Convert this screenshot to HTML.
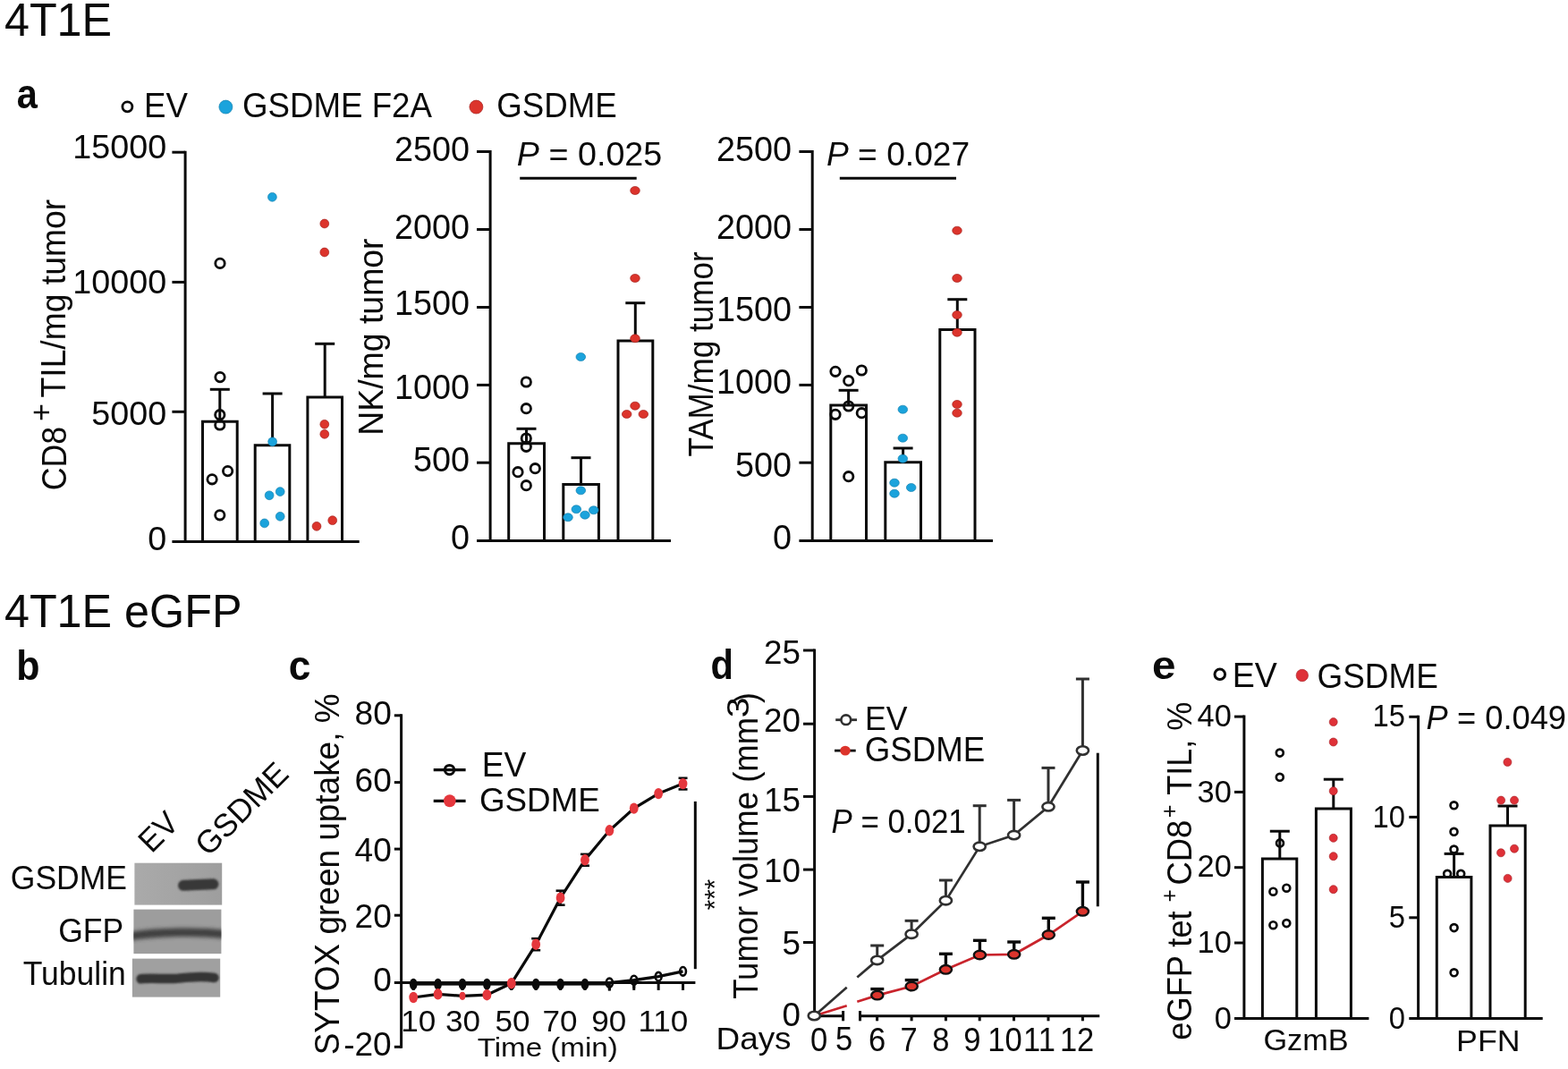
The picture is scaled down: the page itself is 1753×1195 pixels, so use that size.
<!DOCTYPE html>
<html lang="en">
<head>
<meta charset="utf-8">
<title>4T1E figure</title>
<style>
html,body{margin:0;padding:0;background:#fff;}
body{width:1753px;height:1195px;overflow:hidden;}
svg{display:block;font-family:'Liberation Sans', sans-serif;}
text{white-space:pre;}
</style>
</head>
<body>
<svg width="1753" height="1195" viewBox="0 0 1753 1195">
<rect x="0" y="0" width="1753" height="1195" fill="#fff"/>
<text transform="translate(4.93 701.18) scale(0.9688 1)" font-size="51.93" fill="#0a0a0a">4T1E eGFP</text>
<text transform="translate(4.93 40.18) scale(0.9688 1)" font-size="51.93" fill="#0a0a0a">4T1E</text>
<text transform="translate(18.75 120.54) scale(0.8959 1)" font-size="46.46" font-weight="bold" fill="#0a0a0a">a</text>
<text transform="translate(18.24 759.54) scale(0.9422 1)" font-size="45.55" font-weight="bold" fill="#0a0a0a">b</text>
<text transform="translate(322.73 759.53) scale(0.9471 1)" font-size="46.65" font-weight="bold" fill="#0a0a0a">c</text>
<text transform="translate(794.43 759.24) scale(0.9144 1)" font-size="45.55" font-weight="bold" fill="#0a0a0a">d</text>
<text transform="translate(1288.1 759.25) scale(1.0532 1)" font-size="45.18" font-weight="bold" fill="#0a0a0a">e</text>
<circle cx="142.4" cy="119.3" r="5.5" fill="none" stroke="#0a0a0a" stroke-width="2.8"/>
<text transform="translate(270.97 130.92) scale(0.9532 1)" font-size="38.49" fill="#0a0a0a">GSDME F2A</text>
<text transform="translate(160.92 130.92) scale(0.9532 1)" font-size="38.49" fill="#0a0a0a">EV</text>
<text transform="translate(555.17 130.92) scale(0.9532 1)" font-size="38.49" fill="#0a0a0a">GSDME</text>
<circle cx="252.4" cy="119.6" r="7.5" fill="#1ba3dc" stroke="#1580ad" stroke-width="0.9" stroke-opacity="0.75"/>
<circle cx="532.4" cy="119.6" r="7.5" fill="#dc342c" stroke="#a32320" stroke-width="0.9" stroke-opacity="0.75"/>
<path d="M226.5 605.4V471.2H265.2V605.4" fill="#fff" stroke="#0a0a0a" stroke-width="3" stroke-linejoin="miter"/>
<path d="M285.2 605.4V497.7H323.8V605.4" fill="#fff" stroke="#0a0a0a" stroke-width="3" stroke-linejoin="miter"/>
<path d="M343.9 605.4V444H382.5V605.4" fill="#fff" stroke="#0a0a0a" stroke-width="3" stroke-linejoin="miter"/>
<line x1="245.8" y1="435.3" x2="245.8" y2="471" stroke="#0a0a0a" stroke-width="3" stroke-linecap="butt"/>
<line x1="234.8" y1="435.3" x2="256.8" y2="435.3" stroke="#0a0a0a" stroke-width="3" stroke-linecap="butt"/>
<line x1="304.6" y1="440" x2="304.6" y2="497.5" stroke="#0a0a0a" stroke-width="3" stroke-linecap="butt"/>
<line x1="293.6" y1="440" x2="315.6" y2="440" stroke="#0a0a0a" stroke-width="3" stroke-linecap="butt"/>
<line x1="363.2" y1="384.3" x2="363.2" y2="444" stroke="#0a0a0a" stroke-width="3" stroke-linecap="butt"/>
<line x1="352.2" y1="384.3" x2="374.2" y2="384.3" stroke="#0a0a0a" stroke-width="3" stroke-linecap="butt"/>
<line x1="207.1" y1="168.7" x2="207.1" y2="606.9" stroke="#0a0a0a" stroke-width="3" stroke-linecap="butt"/>
<line x1="192.4" y1="170.2" x2="207.1" y2="170.2" stroke="#0a0a0a" stroke-width="3" stroke-linecap="butt"/>
<line x1="192.4" y1="315.4" x2="207.1" y2="315.4" stroke="#0a0a0a" stroke-width="3" stroke-linecap="butt"/>
<line x1="192.4" y1="460.3" x2="207.1" y2="460.3" stroke="#0a0a0a" stroke-width="3" stroke-linecap="butt"/>
<line x1="192.4" y1="605.4" x2="401.7" y2="605.4" stroke="#0a0a0a" stroke-width="3" stroke-linecap="butt"/>
<text transform="translate(81.31 177.28) scale(1.0063 1)" font-size="37.5" fill="#0a0a0a">15000</text>
<text transform="translate(81.31 328.27) scale(1.0063 1)" font-size="37.5" fill="#0a0a0a">10000</text>
<text transform="translate(102.19 474.68) scale(1.0063 1)" font-size="37.5" fill="#0a0a0a">5000</text>
<text transform="translate(165.2 615.08) scale(1.0063 1)" font-size="37.5" fill="#0a0a0a">0</text>
<circle cx="246" cy="294.4" r="5.2" fill="none" stroke="#0a0a0a" stroke-width="2.8"/>
<circle cx="246" cy="421.6" r="5.2" fill="none" stroke="#0a0a0a" stroke-width="2.8"/>
<circle cx="245.8" cy="463.7" r="5.2" fill="none" stroke="#0a0a0a" stroke-width="2.8"/>
<circle cx="245.8" cy="475" r="5.2" fill="none" stroke="#0a0a0a" stroke-width="2.8"/>
<circle cx="254.6" cy="526.6" r="5.2" fill="none" stroke="#0a0a0a" stroke-width="2.8"/>
<circle cx="237.1" cy="535.8" r="5.2" fill="none" stroke="#0a0a0a" stroke-width="2.8"/>
<circle cx="245.8" cy="575.8" r="5.2" fill="none" stroke="#0a0a0a" stroke-width="2.8"/>
<circle cx="304.4" cy="220.3" r="4.9" fill="#1ba3dc" stroke="#1580ad" stroke-width="0.9" stroke-opacity="0.75"/>
<circle cx="304.6" cy="493.8" r="4.9" fill="#1ba3dc" stroke="#1580ad" stroke-width="0.9" stroke-opacity="0.75"/>
<circle cx="313.2" cy="549.6" r="4.9" fill="#1ba3dc" stroke="#1580ad" stroke-width="0.9" stroke-opacity="0.75"/>
<circle cx="301.1" cy="553.8" r="4.9" fill="#1ba3dc" stroke="#1580ad" stroke-width="0.9" stroke-opacity="0.75"/>
<circle cx="313.2" cy="577.3" r="4.9" fill="#1ba3dc" stroke="#1580ad" stroke-width="0.9" stroke-opacity="0.75"/>
<circle cx="295.7" cy="584.9" r="4.9" fill="#1ba3dc" stroke="#1580ad" stroke-width="0.9" stroke-opacity="0.75"/>
<circle cx="362.8" cy="250" r="4.9" fill="#dc342c" stroke="#a32320" stroke-width="0.9" stroke-opacity="0.75"/>
<circle cx="362.8" cy="282" r="4.9" fill="#dc342c" stroke="#a32320" stroke-width="0.9" stroke-opacity="0.75"/>
<circle cx="362.8" cy="474.3" r="4.9" fill="#dc342c" stroke="#a32320" stroke-width="0.9" stroke-opacity="0.75"/>
<circle cx="362.8" cy="485.3" r="4.9" fill="#dc342c" stroke="#a32320" stroke-width="0.9" stroke-opacity="0.75"/>
<circle cx="371.7" cy="581.7" r="4.9" fill="#dc342c" stroke="#a32320" stroke-width="0.9" stroke-opacity="0.75"/>
<circle cx="354" cy="588.3" r="4.9" fill="#dc342c" stroke="#a32320" stroke-width="0.9" stroke-opacity="0.75"/>
<text transform="translate(73.61 548.29) rotate(-90) scale(0.9192 1)" font-size="38.92" fill="#0a0a0a">CD8</text>
<text transform="translate(57.56 471.01) rotate(-90) scale(0.9661 1)" font-size="35.31" fill="#0a0a0a">+</text>
<text transform="translate(73.4 444.47) rotate(-90) scale(0.9575 1)" font-size="38.92" fill="#0a0a0a">TIL/mg tumor</text>
<path d="M568.7 604.4V495.8H608.5V604.4" fill="#fff" stroke="#0a0a0a" stroke-width="3" stroke-linejoin="miter"/>
<path d="M629.8 604.4V541.4H669.4V604.4" fill="#fff" stroke="#0a0a0a" stroke-width="3" stroke-linejoin="miter"/>
<path d="M691 604.4V381H729.8V604.4" fill="#fff" stroke="#0a0a0a" stroke-width="3" stroke-linejoin="miter"/>
<line x1="588.5" y1="479.3" x2="588.5" y2="495.5" stroke="#0a0a0a" stroke-width="3" stroke-linecap="butt"/>
<line x1="577.5" y1="479.3" x2="599.5" y2="479.3" stroke="#0a0a0a" stroke-width="3" stroke-linecap="butt"/>
<line x1="649.5" y1="511.7" x2="649.5" y2="541" stroke="#0a0a0a" stroke-width="3" stroke-linecap="butt"/>
<line x1="638.5" y1="511.7" x2="660.5" y2="511.7" stroke="#0a0a0a" stroke-width="3" stroke-linecap="butt"/>
<line x1="710.3" y1="338.7" x2="710.3" y2="381" stroke="#0a0a0a" stroke-width="3" stroke-linecap="butt"/>
<line x1="699.3" y1="338.7" x2="721.3" y2="338.7" stroke="#0a0a0a" stroke-width="3" stroke-linecap="butt"/>
<line x1="548.1" y1="168" x2="548.1" y2="605.9" stroke="#0a0a0a" stroke-width="3" stroke-linecap="butt"/>
<line x1="533" y1="169.5" x2="548.1" y2="169.5" stroke="#0a0a0a" stroke-width="3" stroke-linecap="butt"/>
<line x1="533" y1="256.5" x2="548.1" y2="256.5" stroke="#0a0a0a" stroke-width="3" stroke-linecap="butt"/>
<line x1="533" y1="343.5" x2="548.1" y2="343.5" stroke="#0a0a0a" stroke-width="3" stroke-linecap="butt"/>
<line x1="533" y1="430.4" x2="548.1" y2="430.4" stroke="#0a0a0a" stroke-width="3" stroke-linecap="butt"/>
<line x1="533" y1="517.2" x2="548.1" y2="517.2" stroke="#0a0a0a" stroke-width="3" stroke-linecap="butt"/>
<line x1="533" y1="604.4" x2="750" y2="604.4" stroke="#0a0a0a" stroke-width="3" stroke-linecap="butt"/>
<text transform="translate(440.91 179.52) scale(0.9885 1)" font-size="38.21" fill="#0a0a0a">2500</text>
<text transform="translate(440.91 266.72) scale(0.9885 1)" font-size="38.21" fill="#0a0a0a">2000</text>
<text transform="translate(440.91 352.22) scale(0.9885 1)" font-size="38.21" fill="#0a0a0a">1500</text>
<text transform="translate(440.91 446.02) scale(0.9885 1)" font-size="38.21" fill="#0a0a0a">1000</text>
<text transform="translate(461.94 526.72) scale(0.9885 1)" font-size="38.21" fill="#0a0a0a">500</text>
<text transform="translate(503.99 614.32) scale(0.9885 1)" font-size="38.21" fill="#0a0a0a">0</text>
<circle cx="588.3" cy="427" r="5.2" fill="none" stroke="#0a0a0a" stroke-width="2.8"/>
<circle cx="588.3" cy="456.7" r="5.2" fill="none" stroke="#0a0a0a" stroke-width="2.8"/>
<circle cx="588.3" cy="490" r="5.2" fill="none" stroke="#0a0a0a" stroke-width="2.8"/>
<circle cx="588.3" cy="499.3" r="5.2" fill="none" stroke="#0a0a0a" stroke-width="2.8"/>
<circle cx="598.3" cy="523.7" r="5.2" fill="none" stroke="#0a0a0a" stroke-width="2.8"/>
<circle cx="579" cy="527.7" r="5.2" fill="none" stroke="#0a0a0a" stroke-width="2.8"/>
<circle cx="588.3" cy="542.7" r="5.2" fill="none" stroke="#0a0a0a" stroke-width="2.8"/>
<ellipse cx="649.3" cy="399" rx="5.3" ry="4.5" fill="#1ba3dc" stroke="#1580ad" stroke-width="0.9" stroke-opacity="0.75"/>
<ellipse cx="649.3" cy="548.3" rx="5.3" ry="4.5" fill="#1ba3dc" stroke="#1580ad" stroke-width="0.9" stroke-opacity="0.75"/>
<ellipse cx="644.3" cy="569.3" rx="5.3" ry="4.5" fill="#1ba3dc" stroke="#1580ad" stroke-width="0.9" stroke-opacity="0.75"/>
<ellipse cx="663.7" cy="570.3" rx="5.3" ry="4.5" fill="#1ba3dc" stroke="#1580ad" stroke-width="0.9" stroke-opacity="0.75"/>
<ellipse cx="654" cy="575.7" rx="5.3" ry="4.5" fill="#1ba3dc" stroke="#1580ad" stroke-width="0.9" stroke-opacity="0.75"/>
<ellipse cx="635" cy="578.3" rx="5.3" ry="4.5" fill="#1ba3dc" stroke="#1580ad" stroke-width="0.9" stroke-opacity="0.75"/>
<ellipse cx="710" cy="213" rx="5.3" ry="4.5" fill="#dc342c" stroke="#a32320" stroke-width="0.9" stroke-opacity="0.75"/>
<ellipse cx="710" cy="311" rx="5.3" ry="4.5" fill="#dc342c" stroke="#a32320" stroke-width="0.9" stroke-opacity="0.75"/>
<ellipse cx="710" cy="378.3" rx="5.3" ry="4.5" fill="#dc342c" stroke="#a32320" stroke-width="0.9" stroke-opacity="0.75"/>
<ellipse cx="710" cy="453.7" rx="5.3" ry="4.5" fill="#dc342c" stroke="#a32320" stroke-width="0.9" stroke-opacity="0.75"/>
<ellipse cx="700.7" cy="463" rx="5.3" ry="4.5" fill="#dc342c" stroke="#a32320" stroke-width="0.9" stroke-opacity="0.75"/>
<ellipse cx="719.3" cy="463" rx="5.3" ry="4.5" fill="#dc342c" stroke="#a32320" stroke-width="0.9" stroke-opacity="0.75"/>
<text transform="translate(427.9 486.72) rotate(-90) scale(0.9613 1)" font-size="38.92" fill="#0a0a0a">NK/mg tumor</text>
<text transform="translate(577.87 185.23) scale(1.0324 1)" font-size="36.51" fill="#0a0a0a"><tspan font-style="italic">P</tspan> = 0.025</text>
<line x1="581.2" y1="199.2" x2="711.7" y2="199.2" stroke="#0a0a0a" stroke-width="3" stroke-linecap="butt"/>
<path d="M928.8 604.4V453H968.5V604.4" fill="#fff" stroke="#0a0a0a" stroke-width="3" stroke-linejoin="miter"/>
<path d="M989.8 604.4V516.8H1029.5V604.4" fill="#fff" stroke="#0a0a0a" stroke-width="3" stroke-linejoin="miter"/>
<path d="M1050.8 604.4V368.5H1090V604.4" fill="#fff" stroke="#0a0a0a" stroke-width="3" stroke-linejoin="miter"/>
<line x1="948.6" y1="436.3" x2="948.6" y2="453" stroke="#0a0a0a" stroke-width="3" stroke-linecap="butt"/>
<line x1="937.6" y1="436.3" x2="959.6" y2="436.3" stroke="#0a0a0a" stroke-width="3" stroke-linecap="butt"/>
<line x1="1009.6" y1="501" x2="1009.6" y2="516.5" stroke="#0a0a0a" stroke-width="3" stroke-linecap="butt"/>
<line x1="998.6" y1="501" x2="1020.6" y2="501" stroke="#0a0a0a" stroke-width="3" stroke-linecap="butt"/>
<line x1="1070.3" y1="334.7" x2="1070.3" y2="368.5" stroke="#0a0a0a" stroke-width="3" stroke-linecap="butt"/>
<line x1="1059.3" y1="334.7" x2="1081.3" y2="334.7" stroke="#0a0a0a" stroke-width="3" stroke-linecap="butt"/>
<line x1="908.2" y1="168" x2="908.2" y2="605.9" stroke="#0a0a0a" stroke-width="3" stroke-linecap="butt"/>
<line x1="893.4" y1="169.5" x2="908.2" y2="169.5" stroke="#0a0a0a" stroke-width="3" stroke-linecap="butt"/>
<line x1="893.4" y1="256.5" x2="908.2" y2="256.5" stroke="#0a0a0a" stroke-width="3" stroke-linecap="butt"/>
<line x1="893.4" y1="343.5" x2="908.2" y2="343.5" stroke="#0a0a0a" stroke-width="3" stroke-linecap="butt"/>
<line x1="893.4" y1="430.4" x2="908.2" y2="430.4" stroke="#0a0a0a" stroke-width="3" stroke-linecap="butt"/>
<line x1="893.4" y1="517.2" x2="908.2" y2="517.2" stroke="#0a0a0a" stroke-width="3" stroke-linecap="butt"/>
<line x1="893.4" y1="604.4" x2="1110" y2="604.4" stroke="#0a0a0a" stroke-width="3" stroke-linecap="butt"/>
<text transform="translate(801.01 179.82) scale(0.9885 1)" font-size="38.21" fill="#0a0a0a">2500</text>
<text transform="translate(801.01 266.72) scale(0.9885 1)" font-size="38.21" fill="#0a0a0a">2000</text>
<text transform="translate(801.01 359.12) scale(0.9885 1)" font-size="38.21" fill="#0a0a0a">1500</text>
<text transform="translate(801.01 439.92) scale(0.9885 1)" font-size="38.21" fill="#0a0a0a">1000</text>
<text transform="translate(822.04 532.82) scale(0.9885 1)" font-size="38.21" fill="#0a0a0a">500</text>
<text transform="translate(864.09 614.32) scale(0.9885 1)" font-size="38.21" fill="#0a0a0a">0</text>
<circle cx="934" cy="415.3" r="5.2" fill="none" stroke="#0a0a0a" stroke-width="2.8"/>
<circle cx="963.3" cy="414" r="5.2" fill="none" stroke="#0a0a0a" stroke-width="2.8"/>
<circle cx="948.7" cy="425.7" r="5.2" fill="none" stroke="#0a0a0a" stroke-width="2.8"/>
<circle cx="948.7" cy="454" r="5.2" fill="none" stroke="#0a0a0a" stroke-width="2.8"/>
<circle cx="934" cy="463.3" r="5.2" fill="none" stroke="#0a0a0a" stroke-width="2.8"/>
<circle cx="963.3" cy="461.7" r="5.2" fill="none" stroke="#0a0a0a" stroke-width="2.8"/>
<circle cx="948.7" cy="532.7" r="5.2" fill="none" stroke="#0a0a0a" stroke-width="2.8"/>
<ellipse cx="1009.3" cy="457.7" rx="5.3" ry="4.5" fill="#1ba3dc" stroke="#1580ad" stroke-width="0.9" stroke-opacity="0.75"/>
<ellipse cx="1009.3" cy="489.7" rx="5.3" ry="4.5" fill="#1ba3dc" stroke="#1580ad" stroke-width="0.9" stroke-opacity="0.75"/>
<ellipse cx="1009.3" cy="512.7" rx="5.3" ry="4.5" fill="#1ba3dc" stroke="#1580ad" stroke-width="0.9" stroke-opacity="0.75"/>
<ellipse cx="1000" cy="539.7" rx="5.3" ry="4.5" fill="#1ba3dc" stroke="#1580ad" stroke-width="0.9" stroke-opacity="0.75"/>
<ellipse cx="1018.7" cy="545" rx="5.3" ry="4.5" fill="#1ba3dc" stroke="#1580ad" stroke-width="0.9" stroke-opacity="0.75"/>
<ellipse cx="1000" cy="551.7" rx="5.3" ry="4.5" fill="#1ba3dc" stroke="#1580ad" stroke-width="0.9" stroke-opacity="0.75"/>
<ellipse cx="1070" cy="257.7" rx="5.3" ry="4.5" fill="#dc342c" stroke="#a32320" stroke-width="0.9" stroke-opacity="0.75"/>
<ellipse cx="1070" cy="311" rx="5.3" ry="4.5" fill="#dc342c" stroke="#a32320" stroke-width="0.9" stroke-opacity="0.75"/>
<ellipse cx="1070" cy="352" rx="5.3" ry="4.5" fill="#dc342c" stroke="#a32320" stroke-width="0.9" stroke-opacity="0.75"/>
<ellipse cx="1070" cy="371.7" rx="5.3" ry="4.5" fill="#dc342c" stroke="#a32320" stroke-width="0.9" stroke-opacity="0.75"/>
<ellipse cx="1070" cy="452" rx="5.3" ry="4.5" fill="#dc342c" stroke="#a32320" stroke-width="0.9" stroke-opacity="0.75"/>
<ellipse cx="1070" cy="461.7" rx="5.3" ry="4.5" fill="#dc342c" stroke="#a32320" stroke-width="0.9" stroke-opacity="0.75"/>
<text transform="translate(797.2 510.62) rotate(-90) scale(0.9018 1)" font-size="38.92" fill="#0a0a0a">TAM/mg tumor</text>
<text transform="translate(923.98 185.23) scale(1.0185 1)" font-size="36.51" fill="#0a0a0a"><tspan font-style="italic">P</tspan> = 0.027</text>
<line x1="938.8" y1="199.2" x2="1069" y2="199.2" stroke="#0a0a0a" stroke-width="3" stroke-linecap="butt"/>
<defs><filter id="bl" filterUnits="userSpaceOnUse" x="130" y="950" width="140" height="180"><feGaussianBlur stdDeviation="1.3"/></filter><filter id="bl2" filterUnits="userSpaceOnUse" x="130" y="950" width="140" height="180"><feGaussianBlur stdDeviation="2"/></filter><linearGradient id="g1" x1="0" x2="1" y1="0" y2="0"><stop offset="0" stop-color="#aaaaaa"/><stop offset="1" stop-color="#9e9e9e"/></linearGradient><clipPath id="c2"><rect x="149.4" y="1016.6" width="98" height="49.5"/></clipPath><clipPath id="c3"><rect x="147.9" y="1071.6" width="98.3" height="43"/></clipPath></defs>
<rect x="150.4" y="964.7" width="97.8" height="46.9" fill="url(#g1)"/>
<rect x="149.4" y="1016.6" width="98" height="49.5" fill="#9d9d9d"/>
<rect x="147.9" y="1071.6" width="98.3" height="43" fill="#a0a0a0"/>
<path d="M205 989.8 C212 989.6 222 988.8 238.5 988.3" fill="none" stroke="#383838" stroke-width="12" stroke-linecap="round" filter="url(#bl)"/>
<g clip-path="url(#c2)"><path d="M140 1047.5 C165 1043 185 1042.5 200 1042.3 S232 1041.8 256 1045" fill="none" stroke="#3f3f3f" stroke-width="9.5" filter="url(#bl2)"/></g>
<g clip-path="url(#c3)"><path d="M157.5 1094.3 C170 1093 188 1095 200 1093.6 S225 1090.6 239.5 1093" fill="none" stroke="#363636" stroke-width="10.5" stroke-linecap="round" filter="url(#bl)"/></g>
<text transform="translate(11.82 994.03) scale(0.9652 1)" font-size="36.79" fill="#0a0a0a">GSDME</text>
<text transform="translate(65.16 1052.58) scale(0.9652 1)" font-size="36.79" fill="#0a0a0a">GFP</text>
<text transform="translate(25.69 1100.82) scale(0.9652 1)" font-size="36.79" fill="#0a0a0a">Tubulin</text>
<text transform="translate(169.6 954.7) rotate(-45) scale(0.9459 1)" font-size="36.06" fill="#0a0a0a">EV</text>
<text transform="translate(233 958.6) rotate(-45) scale(0.9797 1)" font-size="36.06" fill="#0a0a0a">GSDME</text>
<line x1="448.6" y1="798.3" x2="448.6" y2="1171.8" stroke="#0a0a0a" stroke-width="3" stroke-linecap="butt"/>
<line x1="440.8" y1="799.8" x2="448.6" y2="799.8" stroke="#0a0a0a" stroke-width="3" stroke-linecap="butt"/>
<line x1="440.8" y1="874.6" x2="448.6" y2="874.6" stroke="#0a0a0a" stroke-width="3" stroke-linecap="butt"/>
<line x1="440.8" y1="949.1" x2="448.6" y2="949.1" stroke="#0a0a0a" stroke-width="3" stroke-linecap="butt"/>
<line x1="440.8" y1="1023.2" x2="448.6" y2="1023.2" stroke="#0a0a0a" stroke-width="3" stroke-linecap="butt"/>
<line x1="440.8" y1="1170.3" x2="448.6" y2="1170.3" stroke="#0a0a0a" stroke-width="3" stroke-linecap="butt"/>
<line x1="440.8" y1="1098.4" x2="777.4" y2="1098.4" stroke="#0a0a0a" stroke-width="3" stroke-linecap="butt"/>
<line x1="462.2" y1="1098.4" x2="462.2" y2="1106.9" stroke="#0a0a0a" stroke-width="3" stroke-linecap="butt"/>
<line x1="489.59" y1="1098.4" x2="489.59" y2="1106.9" stroke="#0a0a0a" stroke-width="3" stroke-linecap="butt"/>
<line x1="516.99" y1="1098.4" x2="516.99" y2="1106.9" stroke="#0a0a0a" stroke-width="3" stroke-linecap="butt"/>
<line x1="544.38" y1="1098.4" x2="544.38" y2="1106.9" stroke="#0a0a0a" stroke-width="3" stroke-linecap="butt"/>
<line x1="571.78" y1="1098.4" x2="571.78" y2="1106.9" stroke="#0a0a0a" stroke-width="3" stroke-linecap="butt"/>
<line x1="599.17" y1="1098.4" x2="599.17" y2="1106.9" stroke="#0a0a0a" stroke-width="3" stroke-linecap="butt"/>
<line x1="626.57" y1="1098.4" x2="626.57" y2="1106.9" stroke="#0a0a0a" stroke-width="3" stroke-linecap="butt"/>
<line x1="653.96" y1="1098.4" x2="653.96" y2="1106.9" stroke="#0a0a0a" stroke-width="3" stroke-linecap="butt"/>
<line x1="681.36" y1="1098.4" x2="681.36" y2="1106.9" stroke="#0a0a0a" stroke-width="3" stroke-linecap="butt"/>
<line x1="708.75" y1="1098.4" x2="708.75" y2="1106.9" stroke="#0a0a0a" stroke-width="3" stroke-linecap="butt"/>
<line x1="736.15" y1="1098.4" x2="736.15" y2="1106.9" stroke="#0a0a0a" stroke-width="3" stroke-linecap="butt"/>
<line x1="763.54" y1="1098.4" x2="763.54" y2="1106.9" stroke="#0a0a0a" stroke-width="3" stroke-linecap="butt"/>
<text transform="translate(396.54 810.03) scale(0.9992 1)" font-size="37.08" fill="#0a0a0a">80</text>
<text transform="translate(396.54 885.13) scale(0.9992 1)" font-size="37.08" fill="#0a0a0a">60</text>
<text transform="translate(396.54 963.03) scale(0.9992 1)" font-size="37.08" fill="#0a0a0a">40</text>
<text transform="translate(396.54 1037.43) scale(0.9992 1)" font-size="37.08" fill="#0a0a0a">20</text>
<text transform="translate(417.16 1108.13) scale(0.9992 1)" font-size="37.08" fill="#0a0a0a">0</text>
<text transform="translate(384.19 1180.23) scale(0.9992 1)" font-size="37.08" fill="#0a0a0a">-20</text>
<text transform="translate(713.41 1153.46) scale(1.0372 1)" font-size="33.82" fill="#0a0a0a">110</text>
<text transform="translate(448.13 1153.46) scale(1.0372 1)" font-size="33.82" fill="#0a0a0a">10</text>
<text transform="translate(497.93 1153.46) scale(1.0372 1)" font-size="33.82" fill="#0a0a0a">30</text>
<text transform="translate(553.52 1153.46) scale(1.0372 1)" font-size="33.82" fill="#0a0a0a">50</text>
<text transform="translate(606.5 1153.46) scale(1.0372 1)" font-size="33.82" fill="#0a0a0a">70</text>
<text transform="translate(661.16 1153.46) scale(1.0372 1)" font-size="33.82" fill="#0a0a0a">90</text>
<text transform="translate(533.63 1181.06) scale(1.1345 1)" font-size="29.25" fill="#0a0a0a">Time (min)</text>
<text transform="translate(378.6 1179.32) rotate(-90) scale(0.9495 1)" font-size="38.92" fill="#0a0a0a">SYTOX green uptake, %</text>
<polyline points="462.2,1099.6 489.6,1099.6 517.0,1099.6 544.4,1099.6 571.8,1099.6 599.2,1099.6 626.6,1099.6 654.0,1099.6 681.4,1098.6 708.8,1095.8 736.1,1091.7 763.5,1085.8" fill="none" stroke="#0a0a0a" stroke-width="3.4"/>
<line x1="462.2" y1="1099.5" x2="681.36" y2="1099.5" stroke="#0a0a0a" stroke-width="4.0" stroke-linecap="butt"/>
<ellipse cx="462.2" cy="1100.2" rx="4.3" ry="6.5" fill="#0a0a0a"/>
<ellipse cx="489.59" cy="1100.2" rx="4.3" ry="6.5" fill="#0a0a0a"/>
<ellipse cx="516.99" cy="1100.2" rx="4.3" ry="6.5" fill="#0a0a0a"/>
<ellipse cx="544.38" cy="1100.2" rx="4.3" ry="6.5" fill="#0a0a0a"/>
<ellipse cx="571.78" cy="1100.2" rx="4.3" ry="6.5" fill="#0a0a0a"/>
<ellipse cx="599.17" cy="1100.2" rx="4.3" ry="6.5" fill="#0a0a0a"/>
<ellipse cx="626.57" cy="1100.2" rx="4.3" ry="6.5" fill="#0a0a0a"/>
<ellipse cx="653.96" cy="1100.2" rx="4.3" ry="6.5" fill="#0a0a0a"/>
<ellipse cx="681.36" cy="1098.6" rx="3.6" ry="5" fill="none" stroke="#0a0a0a" stroke-width="2.6"/>
<line x1="681.36" y1="1102.6" x2="681.36" y2="1107.6" stroke="#0a0a0a" stroke-width="3" stroke-linecap="butt"/>
<ellipse cx="708.75" cy="1095.8" rx="3.6" ry="5" fill="none" stroke="#0a0a0a" stroke-width="2.6"/>
<line x1="708.75" y1="1099.8" x2="708.75" y2="1104.8" stroke="#0a0a0a" stroke-width="3" stroke-linecap="butt"/>
<ellipse cx="736.15" cy="1091.7" rx="3.4" ry="4.8" fill="none" stroke="#0a0a0a" stroke-width="2.6"/>
<ellipse cx="763.54" cy="1085.8" rx="3.4" ry="4.8" fill="none" stroke="#0a0a0a" stroke-width="2.6"/>
<polyline points="462.2,1115.0 489.6,1111.3 517.0,1113.3 544.4,1112.2 571.8,1099.2 599.2,1055.7 626.6,1003.7 654.0,961.3 681.4,928.3 708.8,903.6 736.1,887.1 763.5,876.1" fill="none" stroke="#0a0a0a" stroke-width="3.2"/>
<ellipse cx="462.2" cy="1115" rx="4.9" ry="6.2" fill="#e5373d"/>
<ellipse cx="489.59" cy="1111.3" rx="4.9" ry="6.2" fill="#e5373d"/>
<ellipse cx="516.99" cy="1113.3" rx="3.4" ry="4.6" fill="#e5373d"/>
<ellipse cx="544.38" cy="1112.2" rx="4.9" ry="6.2" fill="#e5373d"/>
<ellipse cx="571.78" cy="1099.2" rx="4.9" ry="6.2" fill="#e5373d"/>
<line x1="599.17" y1="1049.2" x2="599.17" y2="1062.2" stroke="#0a0a0a" stroke-width="2.5" stroke-linecap="butt"/>
<line x1="594.17" y1="1049.2" x2="604.17" y2="1049.2" stroke="#0a0a0a" stroke-width="2.6" stroke-linecap="butt"/>
<line x1="594.17" y1="1062.2" x2="604.17" y2="1062.2" stroke="#0a0a0a" stroke-width="2.6" stroke-linecap="butt"/>
<ellipse cx="599.17" cy="1055.7" rx="4.9" ry="6.2" fill="#e5373d"/>
<line x1="626.57" y1="995.7" x2="626.57" y2="1011.7" stroke="#0a0a0a" stroke-width="2.5" stroke-linecap="butt"/>
<line x1="621.57" y1="995.7" x2="631.57" y2="995.7" stroke="#0a0a0a" stroke-width="2.6" stroke-linecap="butt"/>
<line x1="621.57" y1="1011.7" x2="631.57" y2="1011.7" stroke="#0a0a0a" stroke-width="2.6" stroke-linecap="butt"/>
<ellipse cx="626.57" cy="1003.7" rx="4.9" ry="6.2" fill="#e5373d"/>
<line x1="653.96" y1="954.9" x2="653.96" y2="967.7" stroke="#0a0a0a" stroke-width="2.5" stroke-linecap="butt"/>
<line x1="648.96" y1="954.9" x2="658.96" y2="954.9" stroke="#0a0a0a" stroke-width="2.6" stroke-linecap="butt"/>
<line x1="648.96" y1="967.7" x2="658.96" y2="967.7" stroke="#0a0a0a" stroke-width="2.6" stroke-linecap="butt"/>
<ellipse cx="653.96" cy="961.3" rx="4.9" ry="6.2" fill="#e5373d"/>
<ellipse cx="681.36" cy="928.3" rx="4.9" ry="6.2" fill="#e5373d"/>
<ellipse cx="708.75" cy="903.6" rx="4.9" ry="6.2" fill="#e5373d"/>
<ellipse cx="736.15" cy="887.1" rx="4.9" ry="6.2" fill="#e5373d"/>
<line x1="763.54" y1="869.8" x2="763.54" y2="882.4" stroke="#0a0a0a" stroke-width="2.5" stroke-linecap="butt"/>
<line x1="758.54" y1="869.8" x2="768.54" y2="869.8" stroke="#0a0a0a" stroke-width="2.6" stroke-linecap="butt"/>
<line x1="758.54" y1="882.4" x2="768.54" y2="882.4" stroke="#0a0a0a" stroke-width="2.6" stroke-linecap="butt"/>
<ellipse cx="763.54" cy="876.1" rx="4.9" ry="6.2" fill="#e5373d"/>
<line x1="484.7" y1="860.6" x2="520.6" y2="860.6" stroke="#0a0a0a" stroke-width="3.2" stroke-linecap="butt"/>
<ellipse cx="502.5" cy="860.6" rx="5.2" ry="5.2" fill="none" stroke="#0a0a0a" stroke-width="3"/>
<text transform="translate(538.8 868.3) scale(0.9718 1)" font-size="38.3" fill="#0a0a0a">EV</text>
<line x1="484.7" y1="895.3" x2="520.6" y2="895.3" stroke="#0a0a0a" stroke-width="3.2" stroke-linecap="butt"/>
<ellipse cx="502.8" cy="895.3" rx="6.8" ry="7" fill="#e5373d"/>
<text transform="translate(535.96 907.32) scale(0.9777 1)" font-size="37.64" fill="#0a0a0a">GSDME</text>
<line x1="777.3" y1="895.9" x2="777.3" y2="1083.2" stroke="#0a0a0a" stroke-width="3" stroke-linecap="butt"/>
<text transform="translate(810.09 1017.29) rotate(-90) scale(0.9640 1)" font-size="30.57" fill="#0a0a0a">***</text>
<line x1="910.6" y1="725.5" x2="910.6" y2="1137.2" stroke="#0a0a0a" stroke-width="3" stroke-linecap="butt"/>
<line x1="898" y1="727" x2="910.6" y2="727" stroke="#0a0a0a" stroke-width="3" stroke-linecap="butt"/>
<line x1="898" y1="809.2" x2="910.6" y2="809.2" stroke="#0a0a0a" stroke-width="3" stroke-linecap="butt"/>
<line x1="898" y1="890.4" x2="910.6" y2="890.4" stroke="#0a0a0a" stroke-width="3" stroke-linecap="butt"/>
<line x1="898" y1="972.1" x2="910.6" y2="972.1" stroke="#0a0a0a" stroke-width="3" stroke-linecap="butt"/>
<line x1="898" y1="1053.5" x2="910.6" y2="1053.5" stroke="#0a0a0a" stroke-width="3" stroke-linecap="butt"/>
<line x1="910.6" y1="1135.7" x2="943.6" y2="1135.7" stroke="#0a0a0a" stroke-width="3" stroke-linecap="butt"/>
<line x1="942.6" y1="1130" x2="942.6" y2="1141.3" stroke="#0a0a0a" stroke-width="3" stroke-linecap="butt"/>
<line x1="961.5" y1="1130" x2="961.5" y2="1141.3" stroke="#0a0a0a" stroke-width="3" stroke-linecap="butt"/>
<line x1="960.5" y1="1135.7" x2="1229.3" y2="1135.7" stroke="#0a0a0a" stroke-width="3" stroke-linecap="butt"/>
<line x1="980.6" y1="1135.7" x2="980.6" y2="1141.3" stroke="#0a0a0a" stroke-width="3" stroke-linecap="butt"/>
<line x1="1019.1" y1="1135.7" x2="1019.1" y2="1141.3" stroke="#0a0a0a" stroke-width="3" stroke-linecap="butt"/>
<line x1="1057.4" y1="1135.7" x2="1057.4" y2="1141.3" stroke="#0a0a0a" stroke-width="3" stroke-linecap="butt"/>
<line x1="1095.2" y1="1135.7" x2="1095.2" y2="1141.3" stroke="#0a0a0a" stroke-width="3" stroke-linecap="butt"/>
<line x1="1133.5" y1="1135.7" x2="1133.5" y2="1141.3" stroke="#0a0a0a" stroke-width="3" stroke-linecap="butt"/>
<line x1="1172" y1="1135.7" x2="1172" y2="1141.3" stroke="#0a0a0a" stroke-width="3" stroke-linecap="butt"/>
<line x1="1210.4" y1="1135.7" x2="1210.4" y2="1141.3" stroke="#0a0a0a" stroke-width="3" stroke-linecap="butt"/>
<text transform="translate(854.06 741.99) scale(1.0109 1)" font-size="36.37" fill="#0a0a0a">25</text>
<text transform="translate(853.94 817.89) scale(1.0109 1)" font-size="36.37" fill="#0a0a0a">20</text>
<text transform="translate(854.06 906.9) scale(1.0109 1)" font-size="36.37" fill="#0a0a0a">15</text>
<text transform="translate(853.94 986.19) scale(1.0109 1)" font-size="36.37" fill="#0a0a0a">10</text>
<text transform="translate(874.53 1067.2) scale(1.0109 1)" font-size="36.37" fill="#0a0a0a">5</text>
<text transform="translate(874.4 1146.59) scale(1.0109 1)" font-size="36.37" fill="#0a0a0a">0</text>
<text transform="translate(800.53 1172.74) scale(1.0498 1)" font-size="35.15" fill="#0a0a0a">Days</text>
<text transform="translate(1104.35 1174.64) scale(0.9528 1)" font-size="36.23" fill="#0a0a0a">10</text>
<text transform="translate(905.99 1174.64) scale(0.9528 1)" font-size="36.23" fill="#0a0a0a">0</text>
<text transform="translate(934.1 1174.46) scale(0.9528 1)" font-size="36.23" fill="#0a0a0a">5</text>
<text transform="translate(970.88 1174.64) scale(0.9528 1)" font-size="36.23" fill="#0a0a0a">6</text>
<text transform="translate(1006.54 1174.64) scale(0.9528 1)" font-size="36.23" fill="#0a0a0a">7</text>
<text transform="translate(1042.34 1174.64) scale(0.9528 1)" font-size="36.23" fill="#0a0a0a">8</text>
<text transform="translate(1077.29 1174.64) scale(0.9528 1)" font-size="36.23" fill="#0a0a0a">9</text>
<text transform="translate(1144.09 1174.64) scale(0.9528 1)" font-size="36.23" fill="#0a0a0a">11</text>
<text transform="translate(1184.88 1174.82) scale(0.9528 1)" font-size="36.23" fill="#0a0a0a">12</text>
<text transform="translate(847.3 1116.85) rotate(-90) scale(0.9382 1)" font-size="38.92" fill="#0a0a0a">Tumor volume (mm</text>
<text transform="translate(837.04 802.21) rotate(-90) scale(1.1485 1)" font-size="35.8" fill="#0a0a0a">3</text>
<text transform="translate(847.3 785.96) rotate(-90) scale(0.9192 1)" font-size="38.92" fill="#0a0a0a">)</text>
<line x1="910.5" y1="1135.5" x2="946.7" y2="1103.7" stroke="#303030" stroke-width="2.7" stroke-linecap="butt"/>
<line x1="958.3" y1="1092.5" x2="980.7" y2="1073.4" stroke="#303030" stroke-width="2.7" stroke-linecap="butt"/>
<polyline points="980.7,1073.4 1019.1,1044.2 1057.4,1006.7 1095.2,946.3 1133.6,933.6 1172.0,901.8 1210.4,839" fill="none" stroke="#303030" stroke-width="2.7"/>
<line x1="980.7" y1="1057" x2="980.7" y2="1073.4" stroke="#303030" stroke-width="3" stroke-linecap="butt"/>
<line x1="973.2" y1="1057" x2="988.2" y2="1057" stroke="#303030" stroke-width="3" stroke-linecap="butt"/>
<line x1="1019.1" y1="1029.3" x2="1019.1" y2="1044.2" stroke="#303030" stroke-width="3" stroke-linecap="butt"/>
<line x1="1011.6" y1="1029.3" x2="1026.6" y2="1029.3" stroke="#303030" stroke-width="3" stroke-linecap="butt"/>
<line x1="1057.4" y1="984" x2="1057.4" y2="1006.7" stroke="#303030" stroke-width="3" stroke-linecap="butt"/>
<line x1="1049.9" y1="984" x2="1064.9" y2="984" stroke="#303030" stroke-width="3" stroke-linecap="butt"/>
<line x1="1095.2" y1="900.7" x2="1095.2" y2="946.3" stroke="#303030" stroke-width="3" stroke-linecap="butt"/>
<line x1="1087.7" y1="900.7" x2="1102.7" y2="900.7" stroke="#303030" stroke-width="3" stroke-linecap="butt"/>
<line x1="1133.6" y1="894.4" x2="1133.6" y2="933.6" stroke="#303030" stroke-width="3" stroke-linecap="butt"/>
<line x1="1126.1" y1="894.4" x2="1141.1" y2="894.4" stroke="#303030" stroke-width="3" stroke-linecap="butt"/>
<line x1="1172" y1="858.4" x2="1172" y2="901.8" stroke="#303030" stroke-width="3" stroke-linecap="butt"/>
<line x1="1164.5" y1="858.4" x2="1179.5" y2="858.4" stroke="#303030" stroke-width="3" stroke-linecap="butt"/>
<line x1="1210.4" y1="759" x2="1210.4" y2="839" stroke="#303030" stroke-width="3" stroke-linecap="butt"/>
<line x1="1202.9" y1="759" x2="1217.9" y2="759" stroke="#303030" stroke-width="3" stroke-linecap="butt"/>
<ellipse cx="980.7" cy="1073.4" rx="6.6" ry="4.7" fill="#fff" stroke="#303030" stroke-width="2.6"/>
<ellipse cx="1019.1" cy="1044.2" rx="6.6" ry="4.7" fill="#fff" stroke="#303030" stroke-width="2.6"/>
<ellipse cx="1057.4" cy="1006.7" rx="6.6" ry="4.7" fill="#fff" stroke="#303030" stroke-width="2.6"/>
<ellipse cx="1095.2" cy="946.3" rx="6.6" ry="4.7" fill="#fff" stroke="#303030" stroke-width="2.6"/>
<ellipse cx="1133.6" cy="933.6" rx="6.6" ry="4.7" fill="#fff" stroke="#303030" stroke-width="2.6"/>
<ellipse cx="1172" cy="901.8" rx="6.6" ry="4.7" fill="#fff" stroke="#303030" stroke-width="2.6"/>
<ellipse cx="1210.4" cy="839" rx="6.6" ry="4.7" fill="#fff" stroke="#303030" stroke-width="2.6"/>
<line x1="910.5" y1="1135.5" x2="946.7" y2="1124.2" stroke="#c9242c" stroke-width="2.7" stroke-linecap="butt"/>
<line x1="958.3" y1="1119.7" x2="980.8" y2="1112.6" stroke="#c9242c" stroke-width="2.7" stroke-linecap="butt"/>
<polyline points="980.8,1112.6 1019.2,1102.5 1057.4,1083.8 1095.4,1067.5 1133.7,1066.8 1172.3,1045 1210.4,1018.8" fill="none" stroke="#c9242c" stroke-width="2.7"/>
<line x1="980.8" y1="1105.6" x2="980.8" y2="1112.6" stroke="#0a0a0a" stroke-width="3.4" stroke-linecap="butt"/>
<line x1="973.3" y1="1105.6" x2="988.3" y2="1105.6" stroke="#0a0a0a" stroke-width="3.4" stroke-linecap="butt"/>
<line x1="1019.2" y1="1095.6" x2="1019.2" y2="1102.5" stroke="#0a0a0a" stroke-width="3.4" stroke-linecap="butt"/>
<line x1="1011.7" y1="1095.6" x2="1026.7" y2="1095.6" stroke="#0a0a0a" stroke-width="3.4" stroke-linecap="butt"/>
<line x1="1057.4" y1="1066.3" x2="1057.4" y2="1083.8" stroke="#0a0a0a" stroke-width="3.4" stroke-linecap="butt"/>
<line x1="1049.9" y1="1066.3" x2="1064.9" y2="1066.3" stroke="#0a0a0a" stroke-width="3.4" stroke-linecap="butt"/>
<line x1="1095.4" y1="1051.3" x2="1095.4" y2="1067.5" stroke="#0a0a0a" stroke-width="3.4" stroke-linecap="butt"/>
<line x1="1087.9" y1="1051.3" x2="1102.9" y2="1051.3" stroke="#0a0a0a" stroke-width="3.4" stroke-linecap="butt"/>
<line x1="1133.7" y1="1053" x2="1133.7" y2="1066.8" stroke="#0a0a0a" stroke-width="3.4" stroke-linecap="butt"/>
<line x1="1126.2" y1="1053" x2="1141.2" y2="1053" stroke="#0a0a0a" stroke-width="3.4" stroke-linecap="butt"/>
<line x1="1172.3" y1="1026.3" x2="1172.3" y2="1045" stroke="#0a0a0a" stroke-width="3.4" stroke-linecap="butt"/>
<line x1="1164.8" y1="1026.3" x2="1179.8" y2="1026.3" stroke="#0a0a0a" stroke-width="3.4" stroke-linecap="butt"/>
<line x1="1210.4" y1="986" x2="1210.4" y2="1018.8" stroke="#0a0a0a" stroke-width="3.4" stroke-linecap="butt"/>
<line x1="1202.9" y1="986" x2="1217.9" y2="986" stroke="#0a0a0a" stroke-width="3.4" stroke-linecap="butt"/>
<ellipse cx="980.8" cy="1112.6" rx="6.6" ry="4.8" fill="#dc342c" stroke="#111" stroke-width="2.4"/>
<ellipse cx="1019.2" cy="1102.5" rx="6.6" ry="4.8" fill="#dc342c" stroke="#111" stroke-width="2.4"/>
<ellipse cx="1057.4" cy="1083.8" rx="6.6" ry="4.8" fill="#dc342c" stroke="#111" stroke-width="2.4"/>
<ellipse cx="1095.4" cy="1067.5" rx="6.6" ry="4.8" fill="#dc342c" stroke="#111" stroke-width="2.4"/>
<ellipse cx="1133.7" cy="1066.8" rx="6.6" ry="4.8" fill="#dc342c" stroke="#111" stroke-width="2.4"/>
<ellipse cx="1172.3" cy="1045" rx="6.6" ry="4.8" fill="#dc342c" stroke="#111" stroke-width="2.4"/>
<ellipse cx="1210.4" cy="1018.8" rx="6.6" ry="4.8" fill="#dc342c" stroke="#111" stroke-width="2.4"/>
<ellipse cx="910.3" cy="1135.5" rx="6.6" ry="4.7" fill="#fff" stroke="#303030" stroke-width="2.6"/>
<line x1="934.2" y1="804.7" x2="958" y2="804.7" stroke="#303030" stroke-width="2.8" stroke-linecap="butt"/>
<ellipse cx="945.8" cy="804.7" rx="5.4" ry="5.3" fill="#fff" stroke="#303030" stroke-width="2.6"/>
<text transform="translate(966.93 815.8) scale(0.9590 1)" font-size="37.14" fill="#0a0a0a">EV</text>
<line x1="933" y1="839.1" x2="956.7" y2="839.1" stroke="#0a0a0a" stroke-width="2.8" stroke-linecap="butt"/>
<ellipse cx="945" cy="839.1" rx="5.8" ry="5.4" fill="#dc342c"/>
<text transform="translate(966.77 851.32) scale(0.9667 1)" font-size="37.92" fill="#0a0a0a">GSDME</text>
<text transform="translate(929.55 931.24) scale(0.9656 1)" font-size="36.08" fill="#0a0a0a"><tspan font-style="italic">P</tspan> = 0.021</text>
<line x1="1227.3" y1="841.7" x2="1227.3" y2="1013.3" stroke="#0a0a0a" stroke-width="3" stroke-linecap="butt"/>
<circle cx="1363.8" cy="753.8" r="5.8" fill="none" stroke="#0a0a0a" stroke-width="3"/>
<text transform="translate(1377.67 768.3) scale(0.9801 1)" font-size="38.3" fill="#0a0a0a">EV</text>
<circle cx="1455.8" cy="755" r="6.7" fill="#df3138" stroke="#a82228" stroke-width="0.9" stroke-opacity="0.75"/>
<text transform="translate(1472.56 768.51) scale(0.9376 1)" font-size="39.34" fill="#0a0a0a">GSDME</text>
<path d="M1411.4 1138.6V960H1449.8V1138.6" fill="#fff" stroke="#0a0a0a" stroke-width="3" stroke-linejoin="miter"/>
<path d="M1471.4 1138.6V904H1510.4V1138.6" fill="#fff" stroke="#0a0a0a" stroke-width="3" stroke-linejoin="miter"/>
<line x1="1430.8" y1="929.2" x2="1430.8" y2="960" stroke="#0a0a0a" stroke-width="3" stroke-linecap="butt"/>
<line x1="1419.8" y1="929.2" x2="1441.8" y2="929.2" stroke="#0a0a0a" stroke-width="3" stroke-linecap="butt"/>
<line x1="1490.8" y1="871.2" x2="1490.8" y2="904" stroke="#0a0a0a" stroke-width="3" stroke-linecap="butt"/>
<line x1="1479.8" y1="871.2" x2="1501.8" y2="871.2" stroke="#0a0a0a" stroke-width="3" stroke-linecap="butt"/>
<line x1="1390.9" y1="799.6" x2="1390.9" y2="1140.1" stroke="#0a0a0a" stroke-width="3" stroke-linecap="butt"/>
<line x1="1380" y1="801.1" x2="1390.9" y2="801.1" stroke="#0a0a0a" stroke-width="3" stroke-linecap="butt"/>
<line x1="1380" y1="885.4" x2="1390.9" y2="885.4" stroke="#0a0a0a" stroke-width="3" stroke-linecap="butt"/>
<line x1="1380" y1="969.7" x2="1390.9" y2="969.7" stroke="#0a0a0a" stroke-width="3" stroke-linecap="butt"/>
<line x1="1380" y1="1054" x2="1390.9" y2="1054" stroke="#0a0a0a" stroke-width="3" stroke-linecap="butt"/>
<line x1="1380" y1="1138.6" x2="1530.4" y2="1138.6" stroke="#0a0a0a" stroke-width="3" stroke-linecap="butt"/>
<text transform="translate(1338.6 812.3) scale(0.9757 1)" font-size="35.24" fill="#0a0a0a">40</text>
<text transform="translate(1338.6 896.6) scale(0.9757 1)" font-size="35.24" fill="#0a0a0a">30</text>
<text transform="translate(1338.6 980.1) scale(0.9757 1)" font-size="35.24" fill="#0a0a0a">20</text>
<text transform="translate(1338.6 1064.9) scale(0.9757 1)" font-size="35.24" fill="#0a0a0a">10</text>
<text transform="translate(1357.74 1149.7) scale(0.9757 1)" font-size="35.24" fill="#0a0a0a">0</text>
<circle cx="1430.8" cy="841.6" r="3.95" fill="none" stroke="#0a0a0a" stroke-width="2.7"/>
<circle cx="1430.8" cy="868.8" r="3.95" fill="none" stroke="#0a0a0a" stroke-width="2.7"/>
<circle cx="1431" cy="942.4" r="3.95" fill="none" stroke="#0a0a0a" stroke-width="2.7"/>
<circle cx="1438.3" cy="992.7" r="3.95" fill="none" stroke="#0a0a0a" stroke-width="2.7"/>
<circle cx="1423.4" cy="996.7" r="3.95" fill="none" stroke="#0a0a0a" stroke-width="2.7"/>
<circle cx="1423.4" cy="1034.2" r="3.95" fill="none" stroke="#0a0a0a" stroke-width="2.7"/>
<circle cx="1438.3" cy="1032.1" r="3.95" fill="none" stroke="#0a0a0a" stroke-width="2.7"/>
<circle cx="1490.7" cy="807.1" r="4.5" fill="#df3138" stroke="#a82228" stroke-width="0.9" stroke-opacity="0.75"/>
<circle cx="1490.7" cy="829.5" r="4.5" fill="#df3138" stroke="#a82228" stroke-width="0.9" stroke-opacity="0.75"/>
<circle cx="1490.7" cy="884.2" r="4.5" fill="#df3138" stroke="#a82228" stroke-width="0.9" stroke-opacity="0.75"/>
<circle cx="1490.7" cy="936.8" r="4.5" fill="#df3138" stroke="#a82228" stroke-width="0.9" stroke-opacity="0.75"/>
<circle cx="1490.7" cy="957.2" r="4.5" fill="#df3138" stroke="#a82228" stroke-width="0.9" stroke-opacity="0.75"/>
<circle cx="1490.7" cy="994.2" r="4.5" fill="#df3138" stroke="#a82228" stroke-width="0.9" stroke-opacity="0.75"/>
<text transform="translate(1412.38 1174.47) scale(1.0493 1)" font-size="32.69" fill="#0a0a0a">GzmB</text>
<path d="M1606.3 1138.6V980.6H1644.9V1138.6" fill="#fff" stroke="#0a0a0a" stroke-width="3" stroke-linejoin="miter"/>
<path d="M1666 1138.6V923H1705.2V1138.6" fill="#fff" stroke="#0a0a0a" stroke-width="3" stroke-linejoin="miter"/>
<line x1="1625.6" y1="954.4" x2="1625.6" y2="980.6" stroke="#0a0a0a" stroke-width="3" stroke-linecap="butt"/>
<line x1="1614.6" y1="954.4" x2="1636.6" y2="954.4" stroke="#0a0a0a" stroke-width="3" stroke-linecap="butt"/>
<line x1="1685.5" y1="901" x2="1685.5" y2="923" stroke="#0a0a0a" stroke-width="3" stroke-linecap="butt"/>
<line x1="1674.5" y1="901" x2="1696.5" y2="901" stroke="#0a0a0a" stroke-width="3" stroke-linecap="butt"/>
<line x1="1585.6" y1="799.8" x2="1585.6" y2="1140.1" stroke="#0a0a0a" stroke-width="3" stroke-linecap="butt"/>
<line x1="1575.3" y1="801.3" x2="1585.6" y2="801.3" stroke="#0a0a0a" stroke-width="3" stroke-linecap="butt"/>
<line x1="1575.3" y1="913.4" x2="1585.6" y2="913.4" stroke="#0a0a0a" stroke-width="3" stroke-linecap="butt"/>
<line x1="1575.3" y1="1025.8" x2="1585.6" y2="1025.8" stroke="#0a0a0a" stroke-width="3" stroke-linecap="butt"/>
<line x1="1575.3" y1="1138.6" x2="1724.7" y2="1138.6" stroke="#0a0a0a" stroke-width="3" stroke-linecap="butt"/>
<text transform="translate(1534.59 811.64) scale(0.9117 1)" font-size="35.89" fill="#0a0a0a">15</text>
<text transform="translate(1534.48 924.62) scale(0.9117 1)" font-size="35.89" fill="#0a0a0a">10</text>
<text transform="translate(1552.8 1036.84) scale(0.9117 1)" font-size="35.89" fill="#0a0a0a">5</text>
<text transform="translate(1552.7 1149.92) scale(0.9117 1)" font-size="35.89" fill="#0a0a0a">0</text>
<circle cx="1625.5" cy="900.3" r="3.95" fill="none" stroke="#0a0a0a" stroke-width="2.7"/>
<circle cx="1625.5" cy="929.8" r="3.95" fill="none" stroke="#0a0a0a" stroke-width="2.7"/>
<circle cx="1625.5" cy="949.5" r="3.95" fill="none" stroke="#0a0a0a" stroke-width="2.7"/>
<circle cx="1618.1" cy="976.8" r="3.95" fill="none" stroke="#0a0a0a" stroke-width="2.7"/>
<circle cx="1633.2" cy="976.8" r="3.95" fill="none" stroke="#0a0a0a" stroke-width="2.7"/>
<circle cx="1625.6" cy="1037.1" r="3.95" fill="none" stroke="#0a0a0a" stroke-width="2.7"/>
<circle cx="1625.6" cy="1087.3" r="3.95" fill="none" stroke="#0a0a0a" stroke-width="2.7"/>
<circle cx="1685.4" cy="852" r="4.5" fill="#df3138" stroke="#a82228" stroke-width="0.9" stroke-opacity="0.75"/>
<circle cx="1678.1" cy="894.6" r="4.5" fill="#df3138" stroke="#a82228" stroke-width="0.9" stroke-opacity="0.75"/>
<circle cx="1693" cy="894.6" r="4.5" fill="#df3138" stroke="#a82228" stroke-width="0.9" stroke-opacity="0.75"/>
<circle cx="1693" cy="948.7" r="4.5" fill="#df3138" stroke="#a82228" stroke-width="0.9" stroke-opacity="0.75"/>
<circle cx="1678" cy="953.3" r="4.5" fill="#df3138" stroke="#a82228" stroke-width="0.9" stroke-opacity="0.75"/>
<circle cx="1685.6" cy="981.9" r="4.5" fill="#df3138" stroke="#a82228" stroke-width="0.9" stroke-opacity="0.75"/>
<text transform="translate(1628.12 1174.8) scale(1.0620 1)" font-size="33.64" fill="#0a0a0a">PFN</text>
<text transform="translate(1594.61 815.03) scale(0.9718 1)" font-size="37.36" fill="#0a0a0a"><tspan font-style="italic">P</tspan> = 0.049</text>
<text transform="translate(1331.5 1162.67) rotate(-90) scale(0.9310 1)" font-size="38.92" fill="#0a0a0a">eGFP tet</text>
<text transform="translate(1316.1 1008.61) rotate(-90) scale(0.9139 1)" font-size="26.53" fill="#0a0a0a">+</text>
<text transform="translate(1331.5 989.52) rotate(-90) scale(0.9367 1)" font-size="38.92" fill="#0a0a0a">CD8</text>
<text transform="translate(1316.1 914.36) rotate(-90) scale(0.9526 1)" font-size="26.53" fill="#0a0a0a">+</text>
<text transform="translate(1331.5 888.84) rotate(-90) scale(0.9253 1)" font-size="38.92" fill="#0a0a0a">TIL, %</text>
</svg>
</body>
</html>
